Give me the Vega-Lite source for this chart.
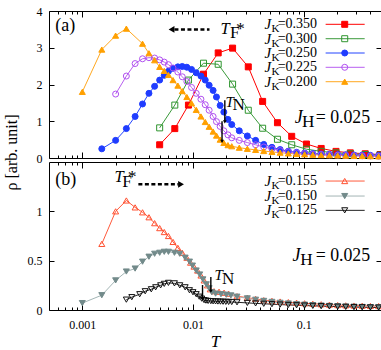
{
"$schema":"https://vega.github.io/schema/vega-lite/v6.json",
"padding":{"left":2,"top":4,"right":2,"bottom":2},
"background":"white",
"spacing":4,
"bounds":"flush",
"config":{"view":{"stroke":"black","strokeWidth":1},"font":"Liberation Serif",
"axis":{"domain":false,"grid":false,"tickColor":"black","tickWidth":1,"labelColor":"black","labelFont":"Liberation Serif","labelFontSize":12,"titleColor":"black","titleFont":"Liberation Serif","titleFontWeight":"normal","labelOverlap":false,"labelBound":false,"labelFlush":false},
"text":{"font":"Liberation Serif","color":"black"}},
"datasets":{
"rho":[
{"p":"a","s":"0.350","T":0.005,"rho":0.36},{"p":"a","s":"0.350","T":0.00685,"rho":0.80},{"p":"a","s":"0.350","T":0.0091,"rho":1.44},{"p":"a","s":"0.350","T":0.01245,"rho":2.28},{"p":"a","s":"0.350","T":0.0169,"rho":2.86},{"p":"a","s":"0.350","T":0.0228,"rho":2.99},{"p":"a","s":"0.350","T":0.0316,"rho":2.48},{"p":"a","s":"0.350","T":0.0426,"rho":1.54},{"p":"a","s":"0.350","T":0.058,"rho":0.96},{"p":"a","s":"0.350","T":0.078,"rho":0.59},{"p":"a","s":"0.350","T":0.106,"rho":0.38},{"p":"a","s":"0.350","T":0.144,"rho":0.26},{"p":"a","s":"0.350","T":0.196,"rho":0.18},{"p":"a","s":"0.350","T":0.264,"rho":0.14},{"p":"a","s":"0.350","T":0.36,"rho":0.115},{"p":"a","s":"0.350","T":0.49,"rho":0.095},
{"p":"a","s":"0.300","T":0.005,"rho":0.82},{"p":"a","s":"0.300","T":0.00685,"rho":1.44},{"p":"a","s":"0.300","T":0.0091,"rho":2.12},{"p":"a","s":"0.300","T":0.01245,"rho":2.58},{"p":"a","s":"0.300","T":0.0169,"rho":2.55},{"p":"a","s":"0.300","T":0.0228,"rho":2.01},{"p":"a","s":"0.300","T":0.0316,"rho":1.30},{"p":"a","s":"0.300","T":0.0426,"rho":0.81},{"p":"a","s":"0.300","T":0.058,"rho":0.51},{"p":"a","s":"0.300","T":0.078,"rho":0.36},{"p":"a","s":"0.300","T":0.106,"rho":0.24},{"p":"a","s":"0.300","T":0.144,"rho":0.18},{"p":"a","s":"0.300","T":0.196,"rho":0.14},{"p":"a","s":"0.300","T":0.264,"rho":0.115},{"p":"a","s":"0.300","T":0.36,"rho":0.095},{"p":"a","s":"0.300","T":0.49,"rho":0.08},
{"p":"a","s":"0.250","T":0.0015,"rho":0.25},{"p":"a","s":"0.250","T":0.002,"rho":0.48},{"p":"a","s":"0.250","T":0.0025,"rho":0.80},{"p":"a","s":"0.250","T":0.003,"rho":1.13},{"p":"a","s":"0.250","T":0.0035,"rho":1.47},{"p":"a","s":"0.250","T":0.004,"rho":1.76},{"p":"a","s":"0.250","T":0.0045,"rho":1.95},{"p":"a","s":"0.250","T":0.005,"rho":2.12},{"p":"a","s":"0.250","T":0.0055,"rho":2.25},{"p":"a","s":"0.250","T":0.006,"rho":2.36},{"p":"a","s":"0.250","T":0.0066,"rho":2.44},{"p":"a","s":"0.250","T":0.0073,"rho":2.48},{"p":"a","s":"0.250","T":0.008,"rho":2.49},{"p":"a","s":"0.250","T":0.0088,"rho":2.47},{"p":"a","s":"0.250","T":0.0097,"rho":2.41},{"p":"a","s":"0.250","T":0.0107,"rho":2.32},{"p":"a","s":"0.250","T":0.0118,"rho":2.23},{"p":"a","s":"0.250","T":0.0129,"rho":2.12},{"p":"a","s":"0.250","T":0.014,"rho":1.98},{"p":"a","s":"0.250","T":0.0152,"rho":1.84},{"p":"a","s":"0.250","T":0.0163,"rho":1.66},{"p":"a","s":"0.250","T":0.0176,"rho":1.43},{"p":"a","s":"0.250","T":0.019,"rho":1.25},{"p":"a","s":"0.250","T":0.0207,"rho":1.05},{"p":"a","s":"0.250","T":0.0224,"rho":0.91},{"p":"a","s":"0.250","T":0.0262,"rho":0.74},{"p":"a","s":"0.250","T":0.031,"rho":0.60},{"p":"a","s":"0.250","T":0.0368,"rho":0.48},{"p":"a","s":"0.250","T":0.0436,"rho":0.37},{"p":"a","s":"0.250","T":0.0517,"rho":0.29},{"p":"a","s":"0.250","T":0.0613,"rho":0.23},{"p":"a","s":"0.250","T":0.0727,"rho":0.185},{"p":"a","s":"0.250","T":0.0863,"rho":0.155},{"p":"a","s":"0.250","T":0.102,"rho":0.135},{"p":"a","s":"0.250","T":0.121,"rho":0.12},{"p":"a","s":"0.250","T":0.144,"rho":0.11},{"p":"a","s":"0.250","T":0.171,"rho":0.10},{"p":"a","s":"0.250","T":0.203,"rho":0.093},{"p":"a","s":"0.250","T":0.24,"rho":0.087},{"p":"a","s":"0.250","T":0.285,"rho":0.082},{"p":"a","s":"0.250","T":0.338,"rho":0.077},{"p":"a","s":"0.250","T":0.401,"rho":0.073},{"p":"a","s":"0.250","T":0.476,"rho":0.07},
{"p":"a","s":"0.225","T":0.002,"rho":1.74},{"p":"a","s":"0.225","T":0.0025,"rho":2.23},{"p":"a","s":"0.225","T":0.003,"rho":2.57},{"p":"a","s":"0.225","T":0.0035,"rho":2.70},{"p":"a","s":"0.225","T":0.004,"rho":2.73},{"p":"a","s":"0.225","T":0.0045,"rho":2.72},{"p":"a","s":"0.225","T":0.005,"rho":2.67},{"p":"a","s":"0.225","T":0.0055,"rho":2.61},{"p":"a","s":"0.225","T":0.006,"rho":2.54},{"p":"a","s":"0.225","T":0.0066,"rho":2.45},{"p":"a","s":"0.225","T":0.0073,"rho":2.34},{"p":"a","s":"0.225","T":0.008,"rho":2.21},{"p":"a","s":"0.225","T":0.0088,"rho":2.08},{"p":"a","s":"0.225","T":0.0097,"rho":1.92},{"p":"a","s":"0.225","T":0.0107,"rho":1.76},{"p":"a","s":"0.225","T":0.0118,"rho":1.60},{"p":"a","s":"0.225","T":0.0129,"rho":1.45},{"p":"a","s":"0.225","T":0.014,"rho":1.30},{"p":"a","s":"0.225","T":0.0152,"rho":1.13},{"p":"a","s":"0.225","T":0.0163,"rho":0.99},{"p":"a","s":"0.225","T":0.0176,"rho":0.86},{"p":"a","s":"0.225","T":0.019,"rho":0.74},{"p":"a","s":"0.225","T":0.0207,"rho":0.63},{"p":"a","s":"0.225","T":0.0224,"rho":0.55},{"p":"a","s":"0.225","T":0.0262,"rho":0.48},{"p":"a","s":"0.225","T":0.031,"rho":0.42},{"p":"a","s":"0.225","T":0.0368,"rho":0.36},{"p":"a","s":"0.225","T":0.0436,"rho":0.30},{"p":"a","s":"0.225","T":0.0517,"rho":0.25},{"p":"a","s":"0.225","T":0.0613,"rho":0.20},{"p":"a","s":"0.225","T":0.0727,"rho":0.17},{"p":"a","s":"0.225","T":0.0863,"rho":0.14},{"p":"a","s":"0.225","T":0.102,"rho":0.12},{"p":"a","s":"0.225","T":0.121,"rho":0.105},{"p":"a","s":"0.225","T":0.144,"rho":0.095},{"p":"a","s":"0.225","T":0.171,"rho":0.085},{"p":"a","s":"0.225","T":0.203,"rho":0.078},{"p":"a","s":"0.225","T":0.24,"rho":0.07},{"p":"a","s":"0.225","T":0.285,"rho":0.065},{"p":"a","s":"0.225","T":0.338,"rho":0.06},{"p":"a","s":"0.225","T":0.401,"rho":0.055},{"p":"a","s":"0.225","T":0.476,"rho":0.05},
{"p":"a","s":"0.200","T":0.001,"rho":1.80},{"p":"a","s":"0.200","T":0.0015,"rho":2.95},{"p":"a","s":"0.200","T":0.002,"rho":3.33},{"p":"a","s":"0.200","T":0.0025,"rho":3.52},{"p":"a","s":"0.200","T":0.0035,"rho":3.11},{"p":"a","s":"0.200","T":0.004,"rho":2.85},{"p":"a","s":"0.200","T":0.0045,"rho":2.66},{"p":"a","s":"0.200","T":0.005,"rho":2.48},{"p":"a","s":"0.200","T":0.0055,"rho":2.37},{"p":"a","s":"0.200","T":0.006,"rho":2.26},{"p":"a","s":"0.200","T":0.0066,"rho":2.12},{"p":"a","s":"0.200","T":0.0073,"rho":1.97},{"p":"a","s":"0.200","T":0.008,"rho":1.82},{"p":"a","s":"0.200","T":0.0088,"rho":1.66},{"p":"a","s":"0.200","T":0.0097,"rho":1.49},{"p":"a","s":"0.200","T":0.0107,"rho":1.31},{"p":"a","s":"0.200","T":0.0118,"rho":1.13},{"p":"a","s":"0.200","T":0.0129,"rho":0.98},{"p":"a","s":"0.200","T":0.014,"rho":0.85},{"p":"a","s":"0.200","T":0.0152,"rho":0.72},{"p":"a","s":"0.200","T":0.0163,"rho":0.61},{"p":"a","s":"0.200","T":0.0176,"rho":0.50},{"p":"a","s":"0.200","T":0.019,"rho":0.41},{"p":"a","s":"0.200","T":0.0207,"rho":0.35},{"p":"a","s":"0.200","T":0.0224,"rho":0.32},{"p":"a","s":"0.200","T":0.0262,"rho":0.28},{"p":"a","s":"0.200","T":0.031,"rho":0.25},{"p":"a","s":"0.200","T":0.0368,"rho":0.22},{"p":"a","s":"0.200","T":0.0436,"rho":0.19},{"p":"a","s":"0.200","T":0.0517,"rho":0.165},{"p":"a","s":"0.200","T":0.0613,"rho":0.145},{"p":"a","s":"0.200","T":0.0727,"rho":0.125},{"p":"a","s":"0.200","T":0.0863,"rho":0.11},{"p":"a","s":"0.200","T":0.102,"rho":0.10},{"p":"a","s":"0.200","T":0.121,"rho":0.09},{"p":"a","s":"0.200","T":0.144,"rho":0.08},{"p":"a","s":"0.200","T":0.171,"rho":0.075},{"p":"a","s":"0.200","T":0.203,"rho":0.07},{"p":"a","s":"0.200","T":0.24,"rho":0.065},{"p":"a","s":"0.200","T":0.285,"rho":0.06},{"p":"a","s":"0.200","T":0.338,"rho":0.055},{"p":"a","s":"0.200","T":0.401,"rho":0.05},{"p":"a","s":"0.200","T":0.476,"rho":0.045},
{"p":"b","s":"0.155","T":0.0015,"rho":0.67},{"p":"b","s":"0.155","T":0.002,"rho":1.00},{"p":"b","s":"0.155","T":0.0025,"rho":1.11},{"p":"b","s":"0.155","T":0.003,"rho":1.04},{"p":"b","s":"0.155","T":0.0035,"rho":0.99},{"p":"b","s":"0.155","T":0.004,"rho":0.94},{"p":"b","s":"0.155","T":0.0045,"rho":0.88},{"p":"b","s":"0.155","T":0.005,"rho":0.83},{"p":"b","s":"0.155","T":0.0055,"rho":0.79},{"p":"b","s":"0.155","T":0.006,"rho":0.75},{"p":"b","s":"0.155","T":0.0066,"rho":0.69},{"p":"b","s":"0.155","T":0.0073,"rho":0.63},{"p":"b","s":"0.155","T":0.008,"rho":0.58},{"p":"b","s":"0.155","T":0.0088,"rho":0.53},{"p":"b","s":"0.155","T":0.0095,"rho":0.48},{"p":"b","s":"0.155","T":0.0102,"rho":0.44},{"p":"b","s":"0.155","T":0.011,"rho":0.40},{"p":"b","s":"0.155","T":0.0118,"rho":0.35},{"p":"b","s":"0.155","T":0.0126,"rho":0.30},{"p":"b","s":"0.155","T":0.0135,"rho":0.25},{"p":"b","s":"0.155","T":0.0143,"rho":0.21},{"p":"b","s":"0.155","T":0.0155,"rho":0.19},{"p":"b","s":"0.155","T":0.0172,"rho":0.185},{"p":"b","s":"0.155","T":0.0191,"rho":0.175},{"p":"b","s":"0.155","T":0.021,"rho":0.165},{"p":"b","s":"0.155","T":0.025,"rho":0.14},{"p":"b","s":"0.155","T":0.031,"rho":0.125},{"p":"b","s":"0.155","T":0.0368,"rho":0.113},{"p":"b","s":"0.155","T":0.0436,"rho":0.10},{"p":"b","s":"0.155","T":0.0517,"rho":0.093},{"p":"b","s":"0.155","T":0.0613,"rho":0.086},{"p":"b","s":"0.155","T":0.0727,"rho":0.08},{"p":"b","s":"0.155","T":0.0863,"rho":0.074},{"p":"b","s":"0.155","T":0.102,"rho":0.068},{"p":"b","s":"0.155","T":0.121,"rho":0.063},{"p":"b","s":"0.155","T":0.144,"rho":0.058},{"p":"b","s":"0.155","T":0.171,"rho":0.054},{"p":"b","s":"0.155","T":0.203,"rho":0.05},{"p":"b","s":"0.155","T":0.24,"rho":0.047},{"p":"b","s":"0.155","T":0.285,"rho":0.045},{"p":"b","s":"0.155","T":0.338,"rho":0.043},{"p":"b","s":"0.155","T":0.401,"rho":0.041},{"p":"b","s":"0.155","T":0.476,"rho":0.04},
{"p":"b","s":"0.150","T":0.001,"rho":0.07},{"p":"b","s":"0.150","T":0.0015,"rho":0.15},{"p":"b","s":"0.150","T":0.002,"rho":0.30},{"p":"b","s":"0.150","T":0.0025,"rho":0.39},{"p":"b","s":"0.150","T":0.003,"rho":0.42},{"p":"b","s":"0.150","T":0.0035,"rho":0.49},{"p":"b","s":"0.150","T":0.004,"rho":0.54},{"p":"b","s":"0.150","T":0.0045,"rho":0.57},{"p":"b","s":"0.150","T":0.005,"rho":0.58},{"p":"b","s":"0.150","T":0.0055,"rho":0.59},{"p":"b","s":"0.150","T":0.006,"rho":0.59},{"p":"b","s":"0.150","T":0.0068,"rho":0.58},{"p":"b","s":"0.150","T":0.0076,"rho":0.57},{"p":"b","s":"0.150","T":0.0085,"rho":0.53},{"p":"b","s":"0.150","T":0.0093,"rho":0.49},{"p":"b","s":"0.150","T":0.0099,"rho":0.45},{"p":"b","s":"0.150","T":0.0107,"rho":0.40},{"p":"b","s":"0.150","T":0.0115,"rho":0.36},{"p":"b","s":"0.150","T":0.0123,"rho":0.31},{"p":"b","s":"0.150","T":0.0132,"rho":0.26},{"p":"b","s":"0.150","T":0.014,"rho":0.22},{"p":"b","s":"0.150","T":0.0148,"rho":0.18},{"p":"b","s":"0.150","T":0.016,"rho":0.166},{"p":"b","s":"0.150","T":0.0179,"rho":0.16},{"p":"b","s":"0.150","T":0.02,"rho":0.155},{"p":"b","s":"0.150","T":0.022,"rho":0.148},{"p":"b","s":"0.150","T":0.025,"rho":0.135},{"p":"b","s":"0.150","T":0.031,"rho":0.118},{"p":"b","s":"0.150","T":0.0368,"rho":0.104},{"p":"b","s":"0.150","T":0.0436,"rho":0.092},{"p":"b","s":"0.150","T":0.0517,"rho":0.082},{"p":"b","s":"0.150","T":0.0613,"rho":0.073},{"p":"b","s":"0.150","T":0.0727,"rho":0.066},{"p":"b","s":"0.150","T":0.0863,"rho":0.059},{"p":"b","s":"0.150","T":0.102,"rho":0.054},{"p":"b","s":"0.150","T":0.121,"rho":0.049},{"p":"b","s":"0.150","T":0.144,"rho":0.045},{"p":"b","s":"0.150","T":0.171,"rho":0.041},{"p":"b","s":"0.150","T":0.203,"rho":0.038},{"p":"b","s":"0.150","T":0.24,"rho":0.035},{"p":"b","s":"0.150","T":0.285,"rho":0.033},{"p":"b","s":"0.150","T":0.338,"rho":0.031},{"p":"b","s":"0.150","T":0.401,"rho":0.029},{"p":"b","s":"0.150","T":0.476,"rho":0.027},
{"p":"b","s":"0.125","T":0.0025,"rho":0.105},{"p":"b","s":"0.125","T":0.0028,"rho":0.13},{"p":"b","s":"0.125","T":0.0033,"rho":0.16},{"p":"b","s":"0.125","T":0.0037,"rho":0.19},{"p":"b","s":"0.125","T":0.0042,"rho":0.21},{"p":"b","s":"0.125","T":0.0046,"rho":0.23},{"p":"b","s":"0.125","T":0.0051,"rho":0.25},{"p":"b","s":"0.125","T":0.0055,"rho":0.265},{"p":"b","s":"0.125","T":0.006,"rho":0.275},{"p":"b","s":"0.125","T":0.0068,"rho":0.27},{"p":"b","s":"0.125","T":0.0076,"rho":0.25},{"p":"b","s":"0.125","T":0.0085,"rho":0.23},{"p":"b","s":"0.125","T":0.0093,"rho":0.20},{"p":"b","s":"0.125","T":0.01,"rho":0.18},{"p":"b","s":"0.125","T":0.0107,"rho":0.16},{"p":"b","s":"0.125","T":0.0114,"rho":0.135},{"p":"b","s":"0.125","T":0.012,"rho":0.115},{"p":"b","s":"0.125","T":0.0126,"rho":0.10},{"p":"b","s":"0.125","T":0.0131,"rho":0.095},{"p":"b","s":"0.125","T":0.0137,"rho":0.092},{"p":"b","s":"0.125","T":0.0145,"rho":0.09},{"p":"b","s":"0.125","T":0.0152,"rho":0.088},{"p":"b","s":"0.125","T":0.016,"rho":0.087},{"p":"b","s":"0.125","T":0.0168,"rho":0.086},{"p":"b","s":"0.125","T":0.0177,"rho":0.085},{"p":"b","s":"0.125","T":0.0187,"rho":0.084},{"p":"b","s":"0.125","T":0.0198,"rho":0.083},{"p":"b","s":"0.125","T":0.021,"rho":0.082},{"p":"b","s":"0.125","T":0.0224,"rho":0.081},{"p":"b","s":"0.125","T":0.025,"rho":0.078},{"p":"b","s":"0.125","T":0.031,"rho":0.072},{"p":"b","s":"0.125","T":0.0368,"rho":0.067},{"p":"b","s":"0.125","T":0.0436,"rho":0.063},{"p":"b","s":"0.125","T":0.0517,"rho":0.059},{"p":"b","s":"0.125","T":0.0613,"rho":0.055},{"p":"b","s":"0.125","T":0.0727,"rho":0.051},{"p":"b","s":"0.125","T":0.0863,"rho":0.048},{"p":"b","s":"0.125","T":0.102,"rho":0.045},{"p":"b","s":"0.125","T":0.121,"rho":0.042},{"p":"b","s":"0.125","T":0.144,"rho":0.039},{"p":"b","s":"0.125","T":0.171,"rho":0.036},{"p":"b","s":"0.125","T":0.203,"rho":0.034},{"p":"b","s":"0.125","T":0.24,"rho":0.032},{"p":"b","s":"0.125","T":0.285,"rho":0.03},{"p":"b","s":"0.125","T":0.338,"rho":0.028},{"p":"b","s":"0.125","T":0.401,"rho":0.026},{"p":"b","s":"0.125","T":0.476,"rho":0.025}
],
"leg":[
{"p":"a","s":"0.350","lab":"=0.350","ly":3.638},{"p":"a","s":"0.300","lab":"=0.300","ly":3.246},{"p":"a","s":"0.250","lab":"=0.250","ly":2.857},{"p":"a","s":"0.225","lab":"=0.225","ly":2.468},{"p":"a","s":"0.200","lab":"=0.200","ly":2.076},
{"p":"b","s":"0.155","lab":"=0.155","ly":1.307},{"p":"b","s":"0.150","lab":"=0.150","ly":1.155},{"p":"b","s":"0.125","lab":"=0.125","ly":1.010}
],
"ann":[
{"p":"a","role":"n18","txt":"(a)","T":0.00057,"r":3.45},
{"p":"a","role":"i15","txt":"T","T":0.0177,"r":3.37},
{"p":"a","role":"n11","txt":"F","T":0.0216,"r":3.26},
{"p":"a","role":"n15","txt":"*","T":0.0245,"r":3.37},
{"p":"a","role":"i18","txt":"J","T":0.0829,"r":0.953},
{"p":"a","role":"n11","txt":"H","T":0.0968,"r":0.85},
{"p":"a","role":"n17","txt":"= 0.025","T":0.1284,"r":0.953},
{"p":"a","role":"i13","txt":"T","T":0.0197,"r":1.38},
{"p":"a","role":"n10","txt":"N","T":0.0228,"r":1.30},
{"p":"b","role":"n18","txt":"(b)","T":0.00057,"r":1.267},
{"p":"b","role":"i15","txt":"T","T":0.00195,"r":1.297},
{"p":"b","role":"n11","txt":"F","T":0.0023,"r":1.247},
{"p":"b","role":"n15","txt":"*","T":0.00258,"r":1.297},
{"p":"b","role":"i18","txt":"J","T":0.0795,"r":0.497},
{"p":"b","role":"n11","txt":"H","T":0.093,"r":0.456},
{"p":"b","role":"n17","txt":"= 0.025","T":0.1284,"r":0.497},
{"p":"b","role":"i13","txt":"T","T":0.01565,"r":0.299},
{"p":"b","role":"n10","txt":"N","T":0.0183,"r":0.264}
],
"arr":[
{"p":"a","k":"dash","T":0.0068,"T2":0.0141,"r":3.50,"r2":3.50},
{"p":"a","k":"tn","T":0.0194,"T2":0.0194,"r":1.57,"r2":0.98},
{"p":"a","k":"tn","T":0.0183,"T2":0.0183,"r":1.0,"r2":0.45},
{"p":"b","k":"dash","T":0.00321,"T2":0.0074,"r":1.274,"r2":1.274},
{"p":"b","k":"tn","T":0.0145,"T2":0.0145,"r":0.334,"r2":0.19},
{"p":"b","k":"tn","T":0.0122,"T2":0.0122,"r":0.253,"r2":0.112}
],
"heads":[
{"p":"a","k":"L","T":0.0064,"r":3.50},
{"p":"b","k":"R","T":0.0078,"r":1.274},
{"p":"a","k":"D","T":0.0194,"r":0.98},
{"p":"a","k":"D","T":0.0183,"r":0.45},
{"p":"b","k":"D","T":0.0145,"r":0.19},
{"p":"b","k":"D","T":0.0122,"r":0.112}
]
},
"vconcat":[
{"width":332,"height":147,
"resolve":{"axis":{"x":"independent","y":"independent"},"scale":{"size":"independent"}},
"layer":[
{"data":{"name":"rho"},"transform":[{"filter":"datum.p == 'a'"}],
"mark":{"type":"line","strokeWidth":1},
"encoding":{
"x":{"field":"T","type":"quantitative","scale":{"type":"log","domain":[0.0005,0.5],"nice":false},
"axis":{"orient":"bottom","values":[0.0006,0.0007,0.0008,0.0009,0.001,0.002,0.003,0.004,0.005,0.006,0.007,0.008,0.009,0.01,0.02,0.03,0.04,0.05,0.06,0.07,0.08,0.09,0.1,0.2,0.3,0.4],"labels":false,"title":null,"tickSize":{"condition":{"test":"datum.value == 0.001 || datum.value == 0.01 || datum.value == 0.1","value":-6},"value":-3}}},
"y":{"field":"rho","type":"quantitative","scale":{"domain":[0,4],"nice":false,"zero":false},
"axis":{"orient":"left","values":[0,1,2,3,4],"tickSize":-5,"labelPadding":12,"labelExpr":"datum.value + ''","title":"ρ [arb. unit]","titleFontSize":16,"titleAngle":-90,"titleX":-33,"titleY":141,"titleAlign":"center","titleBaseline":"alphabetic"}},
"color":{"field":"s","type":"nominal","scale":{"domain":["0.350","0.300","0.250","0.225","0.200","0.155","0.150","0.125"],"range":["#ff0000","#3a9a3a","#2244ff","#b860f0","#ffa820","#ff5a3c","#a3b5b5","#222222"]},"legend":null}}},
{"data":{"name":"rho"},"transform":[{"filter":"datum.p == 'a'"}],
"mark":{"type":"point","opacity":1,"strokeWidth":1},
"encoding":{
"x":{"field":"T","type":"quantitative","scale":{"type":"log","domain":[0.0005,0.5],"nice":false},
"axis":{"orient":"top","values":[0.0006,0.0007,0.0008,0.0009,0.001,0.002,0.003,0.004,0.005,0.006,0.007,0.008,0.009,0.01,0.02,0.03,0.04,0.05,0.06,0.07,0.08,0.09,0.1,0.2,0.3,0.4],"labels":false,"title":null,"tickSize":{"condition":{"test":"datum.value == 0.001 || datum.value == 0.01 || datum.value == 0.1","value":-6},"value":-3}}},
"y":{"field":"rho","type":"quantitative","axis":{"orient":"right","values":[0,1,2,3,4],"labels":false,"tickSize":-5,"title":null}},
"shape":{"field":"s","type":"nominal","scale":{"domain":["0.350","0.300","0.250","0.225","0.200","0.155","0.150","0.125"],"range":["square","square","circle","circle","triangle-up","triangle-up","triangle-down","triangle-down"]},"legend":null},
"fill":{"field":"s","type":"nominal","scale":{"domain":["0.350","0.300","0.250","0.225","0.200","0.155","0.150","0.125"],"range":["#ff0000","transparent","#1f3cff","transparent","#ffa000","transparent","#728a8a","transparent"]},"legend":null},
"stroke":{"field":"s","type":"nominal","scale":{"domain":["0.350","0.300","0.250","0.225","0.200","0.155","0.150","0.125"],"range":["#ff0000","#2f952f","#1f3cff","#b050f0","#ffa000","#ff5030","#728a8a","#111111"]},"legend":null},
"size":{"field":"s","type":"ordinal","scale":{"domain":["0.350","0.300","0.250","0.225","0.200","0.155","0.150","0.125"],"range":[36,36,36,36,28,36,32,32]},"legend":null}}},
{"data":{"name":"leg"},"transform":[{"filter":"datum.p == 'a'"}],"mark":{"type":"rule","strokeWidth":1},
"encoding":{"x":{"datum":0.158,"type":"quantitative","axis":null},"x2":{"datum":0.356},"y":{"field":"ly","type":"quantitative","axis":null},
"color":{"field":"s","type":"nominal","scale":{"domain":["0.350","0.300","0.250","0.225","0.200","0.155","0.150","0.125"],"range":["#ff0000","#3a9a3a","#2244ff","#b860f0","#ffa820","#ff5a3c","#a3b5b5","#222222"]},"legend":null}}},
{"data":{"name":"leg"},"transform":[{"filter":"datum.p == 'a'"}],"mark":{"type":"point","opacity":1,"strokeWidth":1},
"encoding":{"x":{"datum":0.235,"type":"quantitative","axis":null},"y":{"field":"ly","type":"quantitative","axis":null},
"shape":{"field":"s","type":"nominal","legend":null},"fill":{"field":"s","type":"nominal","legend":null},"stroke":{"field":"s","type":"nominal","legend":null},
"size":{"field":"s","type":"ordinal","scale":{"domain":["0.350","0.300","0.250","0.225","0.200","0.155","0.150","0.125"],"range":[36,36,36,36,28,36,32,32]},"legend":null}}},
{"data":{"name":"leg"},"transform":[{"filter":"datum.p == 'a'"}],"mark":{"type":"text","fontStyle":"italic","fontSize":15,"align":"left","baseline":"middle"},
"encoding":{"x":{"datum":0.0444,"type":"quantitative","axis":null},"y":{"field":"ly","type":"quantitative","axis":null},"text":{"value":"J"}}},
{"data":{"name":"leg"},"transform":[{"filter":"datum.p == 'a'"}],"mark":{"type":"text","fontSize":11,"align":"left","baseline":"middle","dy":5},
"encoding":{"x":{"datum":0.0513,"type":"quantitative","axis":null},"y":{"field":"ly","type":"quantitative","axis":null},"text":{"value":"K"}}},
{"data":{"name":"leg"},"transform":[{"filter":"datum.p == 'a'"}],"mark":{"type":"text","fontSize":14,"align":"left","baseline":"middle"},
"encoding":{"x":{"datum":0.0582,"type":"quantitative","axis":null},"y":{"field":"ly","type":"quantitative","axis":null},"text":{"field":"lab"}}},
{"data":{"name":"ann"},"transform":[{"filter":"datum.p == 'a' && datum.role[0] == 'n'"}],"mark":{"type":"text","align":"left","baseline":"alphabetic"},
"encoding":{"x":{"field":"T","type":"quantitative","axis":null},"y":{"field":"r","type":"quantitative","axis":null},"text":{"field":"txt"},
"size":{"field":"role","type":"ordinal","scale":{"domain":["n18","n17","n15","n12","n11","n10"],"range":[18,17,15,12,11,10]},"legend":null}}},
{"data":{"name":"ann"},"transform":[{"filter":"datum.p == 'a' && datum.role[0] == 'i'"}],"mark":{"type":"text","align":"left","baseline":"alphabetic","fontStyle":"italic"},
"encoding":{"x":{"field":"T","type":"quantitative","axis":null},"y":{"field":"r","type":"quantitative","axis":null},"text":{"field":"txt"},
"size":{"field":"role","type":"ordinal","scale":{"domain":["i18","i15","i13"],"range":[18,15,13]},"legend":null}}},
{"data":{"name":"arr"},"transform":[{"filter":"datum.p == 'a' && datum.k == 'dash'"}],"mark":{"type":"rule","strokeWidth":2.5,"strokeDash":[4,2.5],"color":"black"},
"encoding":{"x":{"field":"T","type":"quantitative","axis":null},"x2":{"field":"T2"},"y":{"field":"r","type":"quantitative","axis":null},"y2":{"field":"r2"}}},
{"data":{"name":"arr"},"transform":[{"filter":"datum.p == 'a' && datum.k == 'tn'"}],"mark":{"type":"rule","strokeWidth":1.4,"color":"black"},
"encoding":{"x":{"field":"T","type":"quantitative","axis":null},"x2":{"field":"T2"},"y":{"field":"r","type":"quantitative","axis":null},"y2":{"field":"r2"}}},
{"data":{"name":"heads"},"transform":[{"filter":"datum.p == 'a' && datum.k == 'L'"}],"mark":{"type":"point","shape":"triangle-left","filled":true,"color":"black","opacity":1,"size":45},
"encoding":{"x":{"field":"T","type":"quantitative","axis":null},"y":{"field":"r","type":"quantitative","axis":null}}},
{"data":{"name":"heads"},"transform":[{"filter":"datum.p == 'a' && datum.k == 'D'"}],"mark":{"type":"point","shape":"triangle-down","filled":true,"color":"black","opacity":1,"size":14},
"encoding":{"x":{"field":"T","type":"quantitative","axis":null},"y":{"field":"r","type":"quantitative","axis":null}}}
]},
{"width":332,"height":148,
"resolve":{"axis":{"x":"independent","y":"independent"},"scale":{"size":"independent"}},
"layer":[
{"data":{"name":"rho"},"transform":[{"filter":"datum.p == 'b'"}],
"mark":{"type":"line","strokeWidth":1},
"encoding":{
"x":{"field":"T","type":"quantitative","scale":{"type":"log","domain":[0.0005,0.5],"nice":false},
"axis":{"orient":"bottom","values":[0.0006,0.0007,0.0008,0.0009,0.001,0.002,0.003,0.004,0.005,0.006,0.007,0.008,0.009,0.01,0.02,0.03,0.04,0.05,0.06,0.07,0.08,0.09,0.1,0.2,0.3,0.4],"labelExpr":"datum.value == 0.001 ? '0.001' : datum.value == 0.01 ? '0.01' : datum.value == 0.1 ? '0.1' : ''","labelPadding":15,"tickSize":{"condition":{"test":"datum.value == 0.001 || datum.value == 0.01 || datum.value == 0.1","value":-6},"value":-3},
"title":"T","titleFontStyle":"italic","titleFontSize":17,"titleX":166,"titleY":36,"titleAlign":"center","titleBaseline":"alphabetic"}},
"y":{"field":"rho","type":"quantitative","scale":{"domain":[0,1.5],"nice":false,"zero":false},
"axis":{"orient":"left","values":[0,0.5,1],"tickSize":-5,"labelPadding":12,"labelExpr":"datum.value + ''","title":null}},
"color":{"field":"s","type":"nominal","scale":{"domain":["0.350","0.300","0.250","0.225","0.200","0.155","0.150","0.125"],"range":["#ff0000","#3a9a3a","#2244ff","#b860f0","#ffa820","#ff5a3c","#a3b5b5","#222222"]},"legend":null}}},
{"data":{"name":"rho"},"transform":[{"filter":"datum.p == 'b'"}],
"mark":{"type":"point","opacity":1,"strokeWidth":1},
"encoding":{
"x":{"field":"T","type":"quantitative","scale":{"type":"log","domain":[0.0005,0.5],"nice":false},
"axis":{"orient":"top","values":[0.0006,0.0007,0.0008,0.0009,0.001,0.002,0.003,0.004,0.005,0.006,0.007,0.008,0.009,0.01,0.02,0.03,0.04,0.05,0.06,0.07,0.08,0.09,0.1,0.2,0.3,0.4],"labels":false,"title":null,"tickSize":{"condition":{"test":"datum.value == 0.001 || datum.value == 0.01 || datum.value == 0.1","value":-6},"value":-3}}},
"y":{"field":"rho","type":"quantitative","axis":{"orient":"right","values":[0,0.5,1],"labels":false,"tickSize":-5,"title":null}},
"shape":{"field":"s","type":"nominal","scale":{"domain":["0.350","0.300","0.250","0.225","0.200","0.155","0.150","0.125"],"range":["square","square","circle","circle","triangle-up","triangle-up","triangle-down","triangle-down"]},"legend":null},
"fill":{"field":"s","type":"nominal","scale":{"domain":["0.350","0.300","0.250","0.225","0.200","0.155","0.150","0.125"],"range":["#ff0000","transparent","#1f3cff","transparent","#ffa000","transparent","#728a8a","transparent"]},"legend":null},
"stroke":{"field":"s","type":"nominal","scale":{"domain":["0.350","0.300","0.250","0.225","0.200","0.155","0.150","0.125"],"range":["#ff0000","#2f952f","#1f3cff","#b050f0","#ffa000","#ff5030","#728a8a","#111111"]},"legend":null},
"size":{"field":"s","type":"ordinal","scale":{"domain":["0.350","0.300","0.250","0.225","0.200","0.155","0.150","0.125"],"range":[36,36,36,36,28,36,32,32]},"legend":null}}},
{"data":{"name":"leg"},"transform":[{"filter":"datum.p == 'b'"}],"mark":{"type":"rule","strokeWidth":1},
"encoding":{"x":{"datum":0.158,"type":"quantitative","axis":null},"x2":{"datum":0.356},"y":{"field":"ly","type":"quantitative","axis":null},
"color":{"field":"s","type":"nominal","scale":{"domain":["0.350","0.300","0.250","0.225","0.200","0.155","0.150","0.125"],"range":["#ff0000","#3a9a3a","#2244ff","#b860f0","#ffa820","#ff5a3c","#a3b5b5","#222222"]},"legend":null}}},
{"data":{"name":"leg"},"transform":[{"filter":"datum.p == 'b'"}],"mark":{"type":"point","opacity":1,"strokeWidth":1},
"encoding":{"x":{"datum":0.235,"type":"quantitative","axis":null},"y":{"field":"ly","type":"quantitative","axis":null},
"shape":{"field":"s","type":"nominal","legend":null},"fill":{"field":"s","type":"nominal","legend":null},"stroke":{"field":"s","type":"nominal","legend":null},
"size":{"field":"s","type":"ordinal","scale":{"domain":["0.350","0.300","0.250","0.225","0.200","0.155","0.150","0.125"],"range":[36,36,36,36,28,36,32,32]},"legend":null}}},
{"data":{"name":"leg"},"transform":[{"filter":"datum.p == 'b'"}],"mark":{"type":"text","fontStyle":"italic","fontSize":15,"align":"left","baseline":"middle"},
"encoding":{"x":{"datum":0.0444,"type":"quantitative","axis":null},"y":{"field":"ly","type":"quantitative","axis":null},"text":{"value":"J"}}},
{"data":{"name":"leg"},"transform":[{"filter":"datum.p == 'b'"}],"mark":{"type":"text","fontSize":11,"align":"left","baseline":"middle","dy":5},
"encoding":{"x":{"datum":0.0513,"type":"quantitative","axis":null},"y":{"field":"ly","type":"quantitative","axis":null},"text":{"value":"K"}}},
{"data":{"name":"leg"},"transform":[{"filter":"datum.p == 'b'"}],"mark":{"type":"text","fontSize":14,"align":"left","baseline":"middle"},
"encoding":{"x":{"datum":0.0582,"type":"quantitative","axis":null},"y":{"field":"ly","type":"quantitative","axis":null},"text":{"field":"lab"}}},
{"data":{"name":"ann"},"transform":[{"filter":"datum.p == 'b' && datum.role[0] == 'n'"}],"mark":{"type":"text","align":"left","baseline":"alphabetic"},
"encoding":{"x":{"field":"T","type":"quantitative","axis":null},"y":{"field":"r","type":"quantitative","axis":null},"text":{"field":"txt"},
"size":{"field":"role","type":"ordinal","scale":{"domain":["n18","n17","n15","n12","n11","n10"],"range":[18,17,15,12,11,10]},"legend":null}}},
{"data":{"name":"ann"},"transform":[{"filter":"datum.p == 'b' && datum.role[0] == 'i'"}],"mark":{"type":"text","align":"left","baseline":"alphabetic","fontStyle":"italic"},
"encoding":{"x":{"field":"T","type":"quantitative","axis":null},"y":{"field":"r","type":"quantitative","axis":null},"text":{"field":"txt"},
"size":{"field":"role","type":"ordinal","scale":{"domain":["i18","i15","i13"],"range":[18,15,13]},"legend":null}}},
{"data":{"name":"arr"},"transform":[{"filter":"datum.p == 'b' && datum.k == 'dash'"}],"mark":{"type":"rule","strokeWidth":2.5,"strokeDash":[4,2.5],"color":"black"},
"encoding":{"x":{"field":"T","type":"quantitative","axis":null},"x2":{"field":"T2"},"y":{"field":"r","type":"quantitative","axis":null},"y2":{"field":"r2"}}},
{"data":{"name":"arr"},"transform":[{"filter":"datum.p == 'b' && datum.k == 'tn'"}],"mark":{"type":"rule","strokeWidth":1.4,"color":"black"},
"encoding":{"x":{"field":"T","type":"quantitative","axis":null},"x2":{"field":"T2"},"y":{"field":"r","type":"quantitative","axis":null},"y2":{"field":"r2"}}},
{"data":{"name":"heads"},"transform":[{"filter":"datum.p == 'b' && datum.k == 'R'"}],"mark":{"type":"point","shape":"triangle-right","filled":true,"color":"black","opacity":1,"size":45},
"encoding":{"x":{"field":"T","type":"quantitative","axis":null},"y":{"field":"r","type":"quantitative","axis":null}}},
{"data":{"name":"heads"},"transform":[{"filter":"datum.p == 'b' && datum.k == 'D'"}],"mark":{"type":"point","shape":"triangle-down","filled":true,"color":"black","opacity":1,"size":14},
"encoding":{"x":{"field":"T","type":"quantitative","axis":null},"y":{"field":"r","type":"quantitative","axis":null}}}
]}
]
}
